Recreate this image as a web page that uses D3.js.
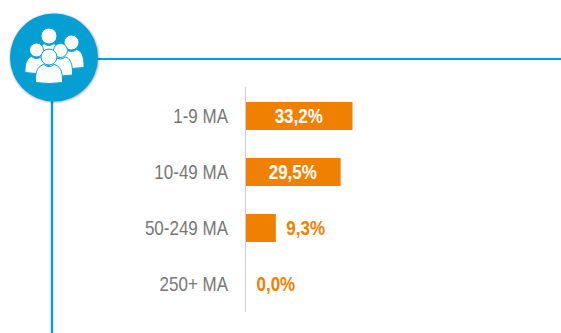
<!DOCTYPE html>
<html>
<head>
<meta charset="utf-8">
<script src="https://cdn.jsdelivr.net/npm/d3@7"></script>
<style>
  html, body { margin: 0; padding: 0; background: #fff; overflow: hidden; }
  text { font-family: "Liberation Sans", Arial, sans-serif; }
</style>
</head>
<body>
<div id="container"></div>
<script>
//Chart values
const categories = ["1-9 MA", "10-49 MA", "50-249 MA", "250+ MA"];
const values = [33.2, 29.5, 9.3, 0.0];

const width = 561;
const height = 333;
const blue = "#059fd3";
const orange = "#f08000";
const squeeze = 0.85; //the labels are set in a narrow face

const svg = d3.select("#container")
    .append("svg")
    .attr("width", width)
    .attr("height", height)
    .style("display", "block");

//Declare the scales
const xScale = d3.scaleLinear().domain([0, 33.2]).range([246, 352.5]);
const yScale = d3.scaleBand().domain(categories).range([88, 312])
    .paddingInner(0.5).paddingOuter(0.25);

//Blue frame lines
svg.append("line").attr("x1", 90).attr("x2", width).attr("y1", 59).attr("y2", 59)
    .attr("stroke", blue).attr("stroke-width", 2.2);
svg.append("line").attr("x1", 52).attr("x2", 52).attr("y1", 90).attr("y2", height)
    .attr("stroke", blue).attr("stroke-width", 2.4);

//Icon circle
const defs = svg.append("defs");
defs.append("filter").attr("id", "soft")
    .attr("x", "-20%").attr("y", "-20%").attr("width", "140%").attr("height", "140%")
    .append("feGaussianBlur").attr("stdDeviation", 0.4);
defs.append("filter").attr("id", "shade")
    .attr("x", "-20%").attr("y", "-20%").attr("width", "140%").attr("height", "140%")
    .append("feGaussianBlur").attr("stdDeviation", 1);

svg.append("circle").attr("cx", 54.5).attr("cy", 58).attr("r", 44.5)
    .attr("fill", "#000").attr("opacity", 0.3).attr("filter", "url(#shade)");
svg.append("circle").attr("cx", 54).attr("cy", 57.5).attr("r", 44).attr("fill", blue);

//People icon, back row first so that the front ones cut over them
const people = [
    { cx: 49, cy: 36, r: 8, w: 10, h: 14 },
    { cx: 71.5, cy: 42.5, r: 7.5, w: 12.5, h: 17 },
    { cx: 36.5, cy: 50, r: 7, w: 11.5, h: 15 },
    { cx: 60.5, cy: 50.5, r: 7, w: 12, h: 17 },
    { cx: 49, cy: 57, r: 8, w: 13.5, h: 17 }
];
const icon = svg.append("g").attr("filter", "url(#soft)");
people.forEach(function (p) {
    const top = p.cy + p.r + 0.5, bottom = top + p.h;
    const path = d3.path();
    path.moveTo(p.cx - p.w, bottom);
    path.bezierCurveTo(p.cx - p.w - 0.5, top + 5, p.cx - p.w + 3, top, p.cx - 5, top - 1);
    path.quadraticCurveTo(p.cx, top + 3, p.cx + 5, top - 1);
    path.bezierCurveTo(p.cx + p.w - 3, top, p.cx + p.w + 0.5, top + 5, p.cx + p.w, bottom);
    path.quadraticCurveTo(p.cx, bottom + 2, p.cx - p.w, bottom);
    path.closePath();
    icon.append("path").attr("d", path.toString())
        .attr("fill", "#fff").attr("stroke", blue).attr("stroke-width", 1);
    icon.append("circle").attr("cx", p.cx).attr("cy", p.cy).attr("r", p.r)
        .attr("fill", "#fff").attr("stroke", blue).attr("stroke-width", 1);
});

//Create bars
svg.selectAll("rect.bar")
    .data(values)
    .enter()
    .append("rect")
    .attr("class", "bar")
    .attr("x", xScale(0))
    .attr("y", (d, i) => yScale(categories[i]))
    .attr("width", d => xScale(d) - xScale(0))
    .attr("height", yScale.bandwidth())
    .attr("fill", orange);

//Create axis line
svg.append("line").attr("x1", 245.5).attr("x2", 245.5).attr("y1", 87).attr("y2", 312)
    .attr("stroke", "#cfcfcf").attr("stroke-width", 1);

//Category labels
svg.selectAll("text.cat")
    .data(categories)
    .enter()
    .append("text")
    .attr("class", "cat")
    .attr("transform", d => `translate(228, ${yScale(d) + yScale.bandwidth() / 2 + 6.5}) scale(${squeeze}, 1)`)
    .attr("text-anchor", "end")
    .attr("font-size", 20)
    .attr("fill", "#777777")
    .text(d => d);

//Value labels: inside the long bars, behind the short ones
svg.selectAll("text.val")
    .data(values)
    .enter()
    .append("text")
    .attr("class", "val")
    .attr("transform", function (d, i) {
        const x = d > 20 ? (xScale(0) + xScale(d)) / 2 - 0.5 : xScale(d) + 10.5;
        return `translate(${x}, ${yScale(categories[i]) + yScale.bandwidth() / 2 + 7}) scale(${squeeze}, 1)`;
    })
    .attr("text-anchor", d => d > 20 ? "middle" : "start")
    .attr("font-size", 20)
    .attr("font-weight", "bold")
    .attr("fill", d => d > 20 ? "#fff" : orange)
    .text(d => d.toFixed(1).replace(".", ",") + "%");
</script>
</body>
</html>
